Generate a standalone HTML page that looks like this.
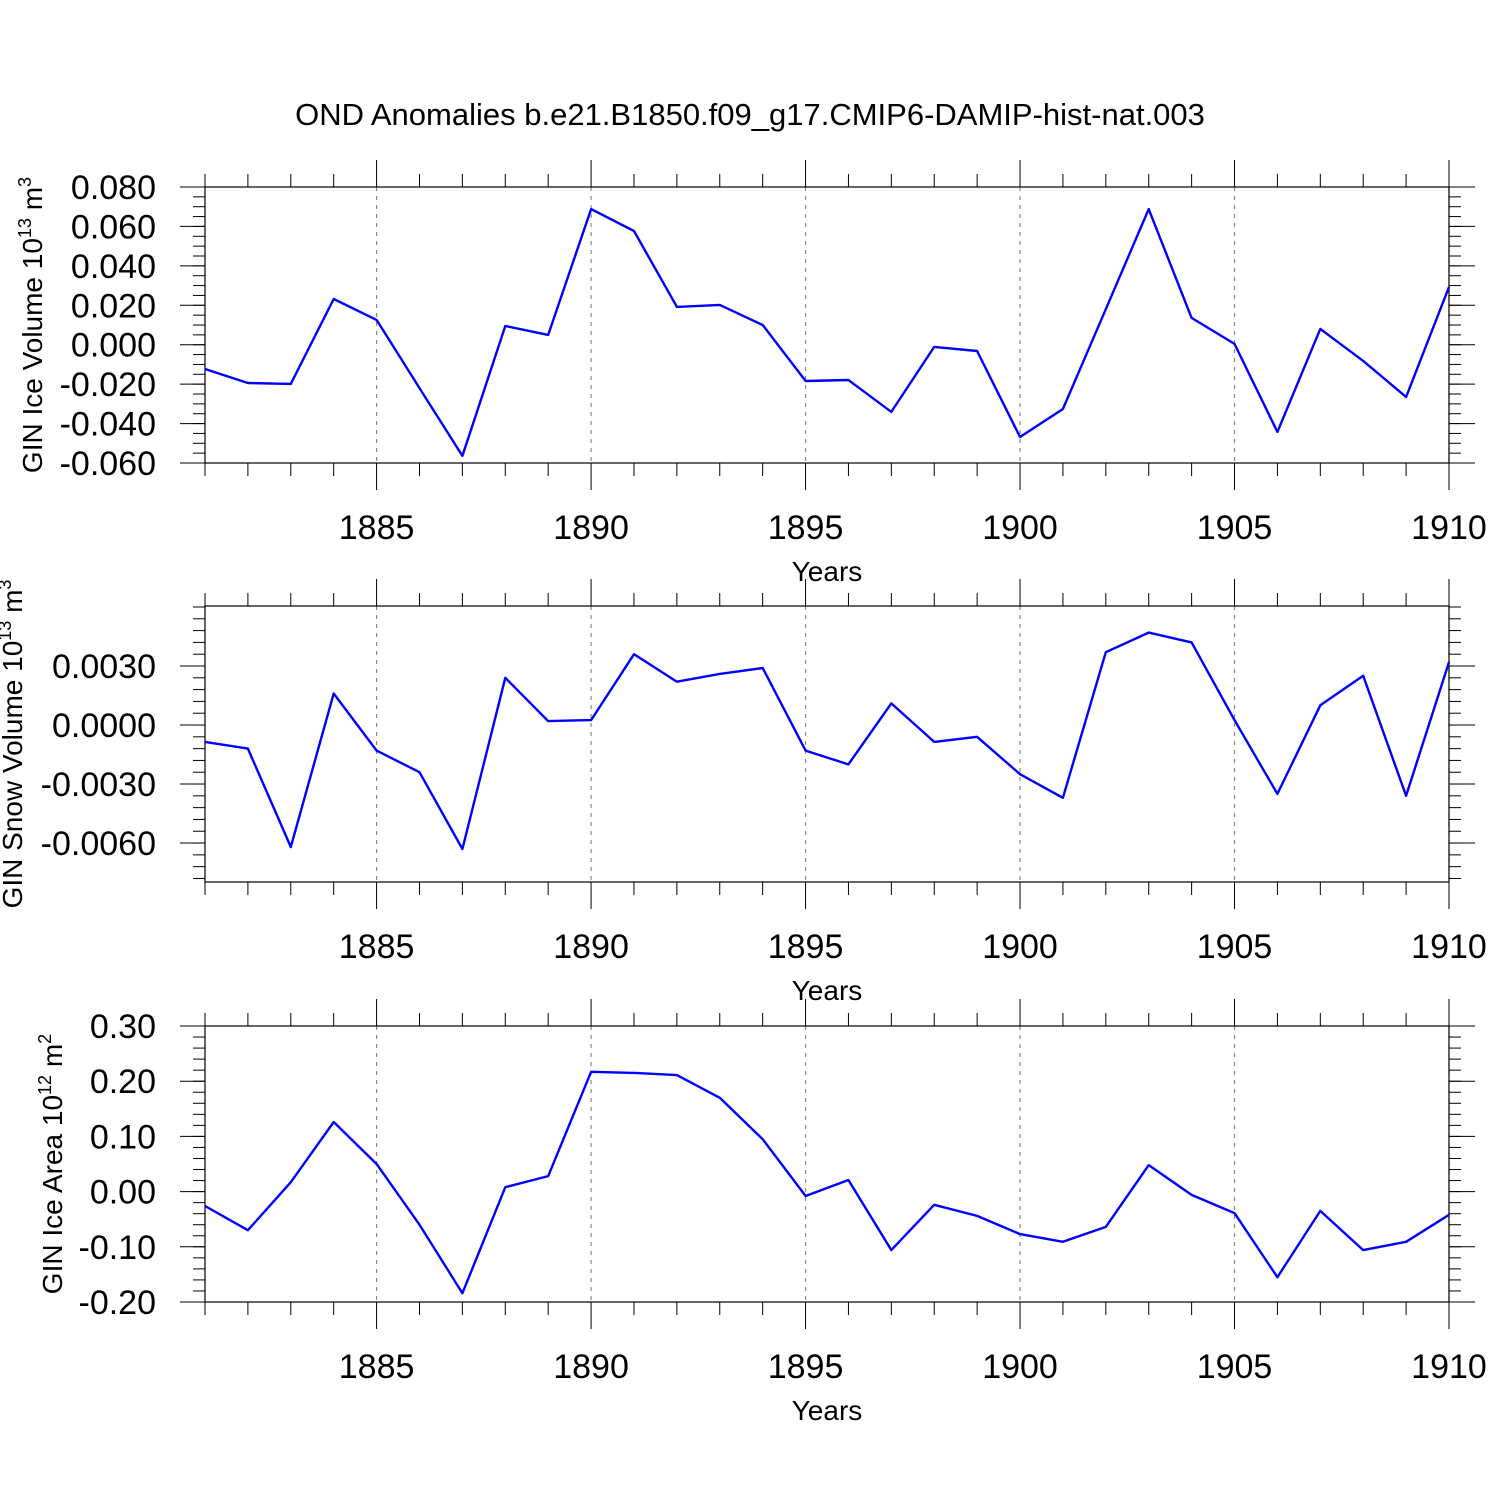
<!DOCTYPE html>
<html><head><meta charset="utf-8"><style>
html,body{margin:0;padding:0;background:#fff;}
svg{display:block;font-family:"Liberation Sans",sans-serif;}
</style></head><body>
<svg id="chart" width="1500" height="1500" viewBox="0 0 1500 1500">
<text x="750" y="125" font-size="31" text-anchor="middle">OND Anomalies b.e21.B1850.f09_g17.CMIP6-DAMIP-hist-nat.003</text>
</svg>
<script>
const years = [1881,1882,1883,1884,1885,1886,1887,1888,1889,1890,1891,1892,1893,1894,1895,1896,1897,1898,1899,1900,1901,1902,1903,1904,1905,1906,1907,1908,1909,1910];
const iceVolume = [-0.0123,-0.0194,-0.0199,0.0232,0.0126,-0.022,-0.0564,0.0095,0.005,0.0688,0.0577,0.0192,0.0202,0.010,-0.0184,-0.0179,-0.0341,-0.0011,-0.0032,-0.0468,-0.0326,0.018,0.0688,0.0136,0.0004,-0.0442,0.008,-0.0082,-0.0265,0.0293];
const snowVolume = [-0.00086,-0.0012,-0.0062,0.0016,-0.0013,-0.0024,-0.0063,0.0024,0.0002,0.00025,0.0036,0.0022,0.0026,0.0029,-0.0013,-0.002,0.0011,-0.00086,-0.0006,-0.0025,-0.0037,0.0037,0.0047,0.0042,0.00025,-0.0035,0.001,0.0025,-0.0036,0.0032];
const iceArea = [-0.026,-0.07,0.017,0.126,0.05,-0.06,-0.184,0.008,0.028,0.217,0.215,0.211,0.17,0.095,-0.008,0.021,-0.106,-0.024,-0.044,-0.077,-0.091,-0.064,0.048,-0.006,-0.039,-0.155,-0.035,-0.106,-0.091,-0.042];
const xTicks = [1885,1890,1895,1900,1905,1910];
const iceVolTicks = [0.08,0.06,0.04,0.02,0,-0.02,-0.04,-0.06];
const iceVolLabels = ["0.080","0.060","0.040","0.020","0.000","-0.020","-0.040","-0.060"];
const snowTicks = [0.003,0,-0.003,-0.006];
const snowLabels = ["0.0030","0.0000","-0.0030","-0.0060"];
const areaTicks = [0.3,0.2,0.1,0,-0.1,-0.2];
const areaLabels = ["0.30","0.20","0.10","0.00","-0.10","-0.20"];

const NS="http://www.w3.org/2000/svg";
const svg=document.getElementById('chart');
function mk(tag,attrs,parent){const e=document.createElementNS(NS,tag);for(const k in attrs)e.setAttribute(k,attrs[k]);(parent||svg).appendChild(e);return e;}
const X0=205,X1=1449;
function xs(y){return X0+(y-1881)/(1910-1881)*(X1-X0);}

function panel(key,top,ymin,ymax,vals,ticks,labels,minorStep,titleHtml,titleX){
  const bot=top+276;
  const ys=v=>top+(ymax-v)/(ymax-ymin)*(bot-top);
  const g=mk('g',{});
  
  
  xTicks.forEach(t=>{const l=mk('line',{x1:xs(t),x2:xs(t),y1:top,y2:bot,stroke:'#888','stroke-width':1.2,'stroke-dasharray':'4,5'},g);
    });
  const f=mk('rect',{x:X0,y:top,width:X1-X0,height:bot-top,fill:'none',stroke:'#000','stroke-width':1.2},g);
  
  for(let y=1881;y<=1910;y++){
    const major=xTicks.includes(y);const L=major?27:13;
    mk('line',{x1:xs(y),x2:xs(y),y1:top-L,y2:top,stroke:'#000','stroke-width':1},g);
    mk('line',{x1:xs(y),x2:xs(y),y1:bot,y2:bot+L,stroke:'#000','stroke-width':1},g);
  }
  xTicks.forEach(t=>{const tx=mk('text',{x:xs(t),y:bot+76,'font-size':34,'text-anchor':'middle'},g);tx.textContent=t;
    });
  const xt=mk('text',{x:827,y:bot+118,'font-size':28,'text-anchor':'middle'},g);xt.textContent='Years';
  
  const start=Math.ceil((ymin-1e-12)/minorStep);
  for(let i=start;i*minorStep<=ymax+1e-12;i++){const v=i*minorStep;const yy=ys(v);
    mk('line',{x1:X0-12,x2:X0,y1:yy,y2:yy,stroke:'#000','stroke-width':1},g);
    mk('line',{x1:X1,x2:X1+12,y1:yy,y2:yy,stroke:'#000','stroke-width':1},g);}
  ticks.forEach((t,i)=>{const yy=ys(t);
    mk('line',{x1:X0-25,x2:X0,y1:yy,y2:yy,stroke:'#000','stroke-width':1},g);
    mk('line',{x1:X1,x2:X1+26,y1:yy,y2:yy,stroke:'#000','stroke-width':1},g);
    const tx=mk('text',{x:156,y:yy+12,'font-size':34,'text-anchor':'end'},g);tx.textContent=labels[i];
    });
  const cy=(top+bot)/2;
  const yt=mk('text',{x:titleX,y:cy,'font-size':28,'text-anchor':'middle',transform:`rotate(-90 ${titleX} ${cy})`},g);
  yt.innerHTML=titleHtml;
  
  const pts=vals.map((v,i)=>xs(years[i]).toFixed(1)+','+ys(v).toFixed(1)).join(' ');
  const pl=mk('polyline',{points:pts,fill:'none',stroke:'#0000ff','stroke-width':2.4,'stroke-linejoin':'round'},g);
  
}
panel('ice-volume',187,-0.06,0.08,iceVolume,iceVolTicks,iceVolLabels,0.005,'GIN Ice Volume 10<tspan dy="-11" font-size="18">13</tspan><tspan dy="11"> m</tspan><tspan dy="-11" font-size="18">3</tspan>',42);
panel('snow-volume',606,-0.00798,0.00605,snowVolume,snowTicks,snowLabels,0.0006,'GIN Snow Volume 10<tspan dy="-11" font-size="18">13</tspan><tspan dy="11"> m</tspan><tspan dy="-11" font-size="18">3</tspan>',22);
panel('ice-area',1026,-0.2,0.3,iceArea,areaTicks,areaLabels,0.02,'GIN Ice Area 10<tspan dy="-11" font-size="18">12</tspan><tspan dy="11"> m</tspan><tspan dy="-11" font-size="18">2</tspan>',62);
</script>
</body></html>
